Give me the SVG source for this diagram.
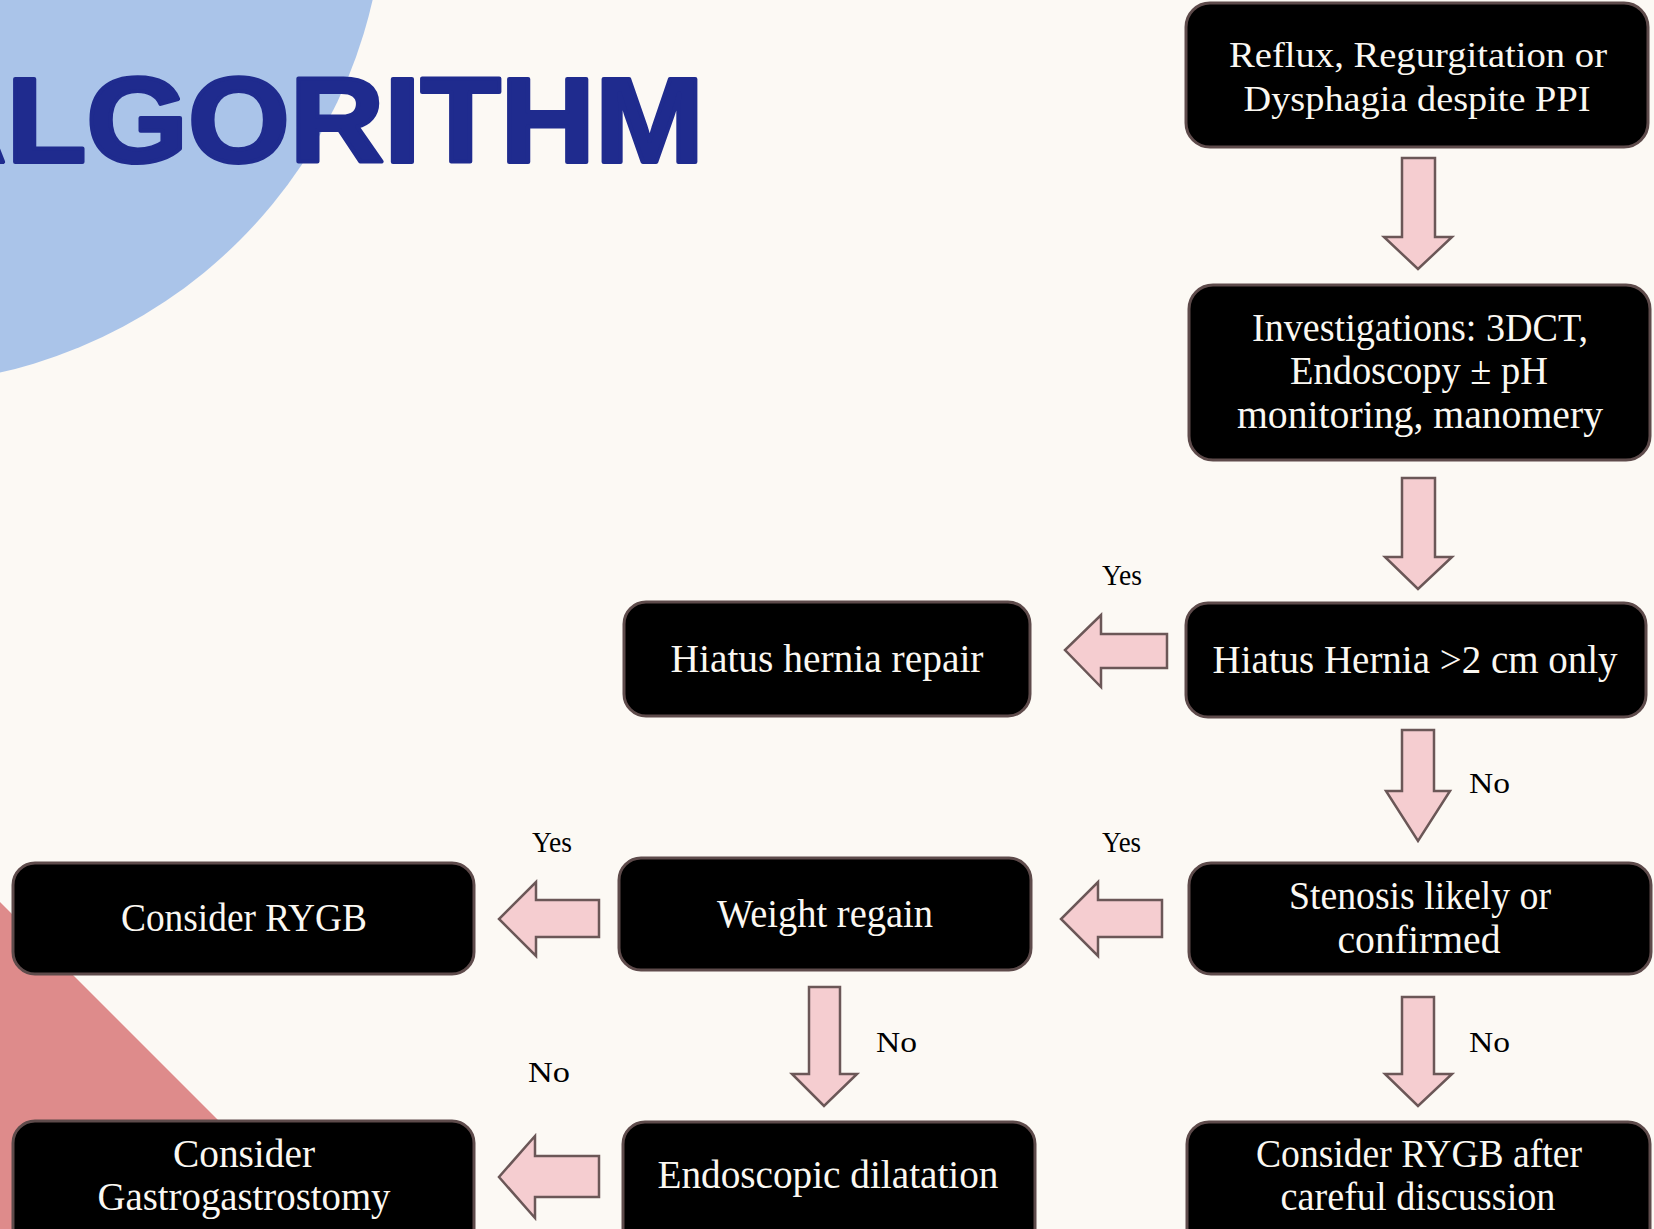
<svg xmlns="http://www.w3.org/2000/svg" width="1654" height="1229" viewBox="0 0 1654 1229">
<style>
.box{fill:#000;stroke:#5E4B4B;stroke-width:3}
.arr{fill:#F5CDD0;stroke:#6B5757;stroke-width:2.5;stroke-linejoin:miter}
.t{font-family:"Liberation Serif","Times New Roman",serif;fill:#FBF8F2;text-anchor:middle}
.f34{font-size:35px}
.f39{font-size:39px}
.lbl{font-family:"Liberation Serif","Times New Roman",serif;font-size:30px;fill:#000}
.title{font-family:"Liberation Sans",Arial,sans-serif;font-weight:bold;font-size:121px;fill:#1F2B8E;stroke:#1F2B8E;stroke-width:4;stroke-linejoin:round}
</style>
<rect x="0" y="0" width="1654" height="1229" fill="#FCF9F4"/>
<g id="background">
<circle cx="-110" cy="-110" r="495" fill="#AAC4E9"/>
<polygon points="0,902 327,1229 0,1229" fill="#DE8B8B"/>
<text class="title" x="-88" y="162" textLength="792" lengthAdjust="spacingAndGlyphs">ALGORITHM</text>
</g>
<g id="connectors">
<polygon class="arr" points="1402,158 1435,158 1435,237 1452,237 1418,269 1384,237 1402,237"/>
<polygon class="arr" points="1402,478 1435,478 1435,557 1452,557 1418,589 1385,557 1402,557"/>
<polygon class="arr" points="1402,730 1434,730 1434,791 1450,791 1418,841 1386,791 1402,791"/>
<polygon class="arr" points="1402,997 1434,997 1434,1074 1452,1074 1418,1106 1385,1074 1402,1074"/>
<polygon class="arr" points="809,987 840,987 840,1074 857,1074 824,1106 792,1074 809,1074"/>
<polygon class="arr" points="1167,634 1167,668 1101,668 1101,687 1065,650 1101,615 1101,634"/>
<polygon class="arr" points="1162,900 1162,937 1098,937 1098,956 1061,919 1098,882 1098,900"/>
<polygon class="arr" points="599,900 599,937 536,937 536,956 499,919 536,882 536,900"/>
<polygon class="arr" points="599,1156 599,1197 535,1197 535,1218 499,1177 535,1136 535,1156"/>
<text class="lbl" x="1102" y="585" textLength="40" lengthAdjust="spacingAndGlyphs">Yes</text>
<text class="lbl" x="1469" y="793" textLength="41" lengthAdjust="spacingAndGlyphs">No</text>
<text class="lbl" x="1102" y="852" textLength="39" lengthAdjust="spacingAndGlyphs">Yes</text>
<text class="lbl" x="532" y="852" textLength="40" lengthAdjust="spacingAndGlyphs">Yes</text>
<text class="lbl" x="876" y="1052" textLength="41" lengthAdjust="spacingAndGlyphs">No</text>
<text class="lbl" x="1469" y="1052" textLength="41" lengthAdjust="spacingAndGlyphs">No</text>
<text class="lbl" x="528" y="1082" textLength="42" lengthAdjust="spacingAndGlyphs">No</text>
</g>
<g id="n1">
<rect class="box" x="1186" y="3" width="462" height="144" rx="24"/>
<text class="t f34" x="1418" y="67" textLength="378" lengthAdjust="spacingAndGlyphs">Reflux, Regurgitation or</text>
<text class="t f34" x="1417" y="111" textLength="347" lengthAdjust="spacingAndGlyphs">Dysphagia despite PPI</text>
</g>
<g id="n2">
<rect class="box" x="1189" y="285" width="461" height="175" rx="24"/>
<text class="t f39" x="1420" y="341" textLength="336" lengthAdjust="spacingAndGlyphs">Investigations: 3DCT,</text>
<text class="t f39" x="1419" y="384" textLength="258" lengthAdjust="spacingAndGlyphs">Endoscopy ± pH</text>
<text class="t f39" x="1420" y="428" textLength="366" lengthAdjust="spacingAndGlyphs">monitoring, manomery</text>
</g>
<g id="n3">
<rect class="box" x="1186" y="603" width="460" height="114" rx="22"/>
<text class="t f39" x="1415" y="673" textLength="405" lengthAdjust="spacingAndGlyphs">Hiatus Hernia &gt;2 cm only</text>
</g>
<g id="n4">
<rect class="box" x="624" y="602" width="406" height="114" rx="22"/>
<text class="t f39" x="827" y="672" textLength="313" lengthAdjust="spacingAndGlyphs">Hiatus hernia repair</text>
</g>
<g id="n5">
<rect class="box" x="1189" y="863" width="462" height="111" rx="22"/>
<text class="t f39" x="1420" y="909" textLength="262" lengthAdjust="spacingAndGlyphs">Stenosis likely or</text>
<text class="t f39" x="1419" y="953" textLength="163" lengthAdjust="spacingAndGlyphs">confirmed</text>
</g>
<g id="n6">
<rect class="box" x="619" y="858" width="412" height="112" rx="22"/>
<text class="t f39" x="825" y="927" textLength="216" lengthAdjust="spacingAndGlyphs">Weight regain</text>
</g>
<g id="n7">
<rect class="box" x="13" y="863" width="461" height="111" rx="22"/>
<text class="t f39" x="244" y="931" textLength="246" lengthAdjust="spacingAndGlyphs">Consider RYGB</text>
</g>
<g id="n8">
<rect class="box" x="623" y="1122" width="412" height="130" rx="22"/>
<text class="t f39" x="828" y="1188" textLength="341" lengthAdjust="spacingAndGlyphs">Endoscopic dilatation</text>
</g>
<g id="n9">
<rect class="box" x="13" y="1121" width="461" height="130" rx="22"/>
<text class="t f39" x="244" y="1167" textLength="142" lengthAdjust="spacingAndGlyphs">Consider</text>
<text class="t f39" x="244" y="1210" textLength="293" lengthAdjust="spacingAndGlyphs">Gastrogastrostomy</text>
</g>
<g id="n10">
<rect class="box" x="1187" y="1122" width="463" height="130" rx="22"/>
<text class="t f39" x="1419" y="1167" textLength="326" lengthAdjust="spacingAndGlyphs">Consider RYGB after</text>
<text class="t f39" x="1418" y="1210" textLength="275" lengthAdjust="spacingAndGlyphs">careful discussion</text>
</g>
</svg>
